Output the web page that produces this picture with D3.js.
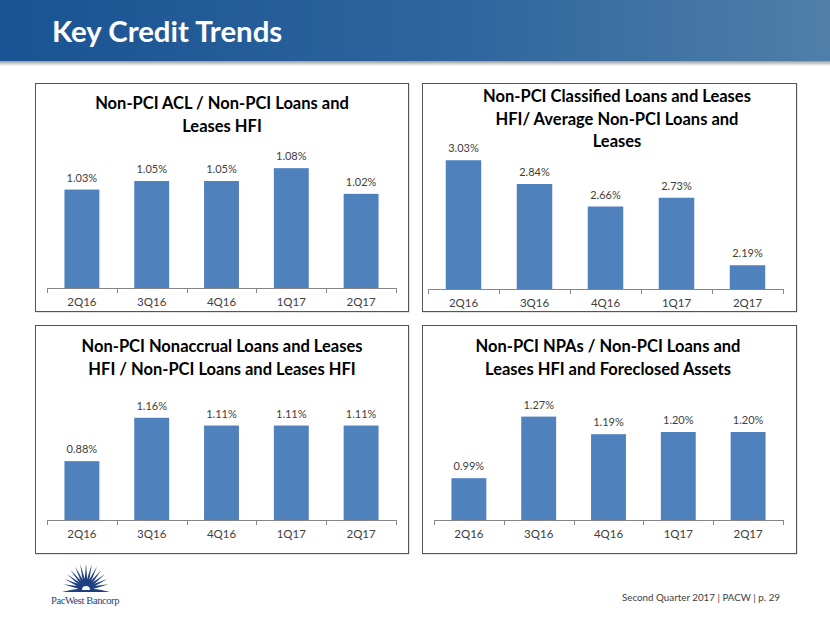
<!DOCTYPE html>
<html>
<head>
<meta charset="utf-8">
<script src="https://cdn.jsdelivr.net/npm/d3@7/dist/d3.min.js"></script>
<style>
  html, body { margin: 0; padding: 0; background: #ffffff; }
  svg { display: block; font-family: Lato, "Open Sans", sans-serif; }
</style>
</head>
<body>
<svg id="chart" width="830" height="623"></svg>
<script>
// ---------- data ----------
const categories = ["2Q16", "3Q16", "4Q16", "1Q17", "2Q17"];
const aclValues = [1.03, 1.05, 1.05, 1.08, 1.02];
const classifiedValues = [3.03, 2.84, 2.66, 2.73, 2.19];
const nonaccrualValues = [0.88, 1.16, 1.11, 1.11, 1.11];
const npaValues = [0.99, 1.27, 1.19, 1.20, 1.20];

const aclTitle = ["Non-PCI ACL / Non-PCI Loans and", "Leases HFI"];
const classifiedTitle = ["Non-PCI Classified Loans and Leases", "HFI/ Average Non-PCI Loans and", "Leases"];
const nonaccrualTitle = ["Non-PCI Nonaccrual Loans and Leases", "HFI / Non-PCI Loans and Leases HFI"];
const npaTitle = ["Non-PCI NPAs / Non-PCI Loans and", "Leases HFI and Foreclosed Assets"];

// value-axis extents (Excel auto axis, hidden)
const aclAxis = [0.8, 1.1];
const classifiedAxis = [2.0, 3.2];
const nonaccrualAxis = [0.5, 1.2];
const npaAxis = [0.8, 1.3];

const pageTitle = "Key Credit Trends";
const footerText = "Second Quarter 2017 | PACW | p. 29";
const logoText = "PacWest Bancorp";

// ---------- layout ----------
const svg = d3.select("#chart");
const defs = svg.append("defs");

const hg = defs.append("linearGradient").attr("id", "hdr").attr("x1", "0").attr("x2", "1").attr("y1", "0").attr("y2", "0");
hg.append("stop").attr("offset", "0").attr("stop-color", "#1a5393");
hg.append("stop").attr("offset", "0.55").attr("stop-color", "#2e659d");
hg.append("stop").attr("offset", "1").attr("stop-color", "#4f7fa9");

const sg = defs.append("linearGradient").attr("id", "shd").attr("x1", "0").attr("x2", "0").attr("y1", "0").attr("y2", "1");
sg.append("stop").attr("offset", "0").attr("stop-color", "#9a9a9a");
sg.append("stop").attr("offset", "1").attr("stop-color", "#ffffff");

svg.append("rect").attr("x", 0).attr("y", 61).attr("width", 830).attr("height", 5).attr("fill", "url(#shd)");
svg.append("rect").attr("x", 0).attr("y", 0).attr("width", 830).attr("height", 61).attr("fill", "url(#hdr)");

svg.append("text")
  .attr("x", 52).attr("y", 42)
  .attr("fill", "#ffffff")
  .attr("font-size", 29.4)
  .attr("font-weight", "bold")
  .text(pageTitle);

const panels = [
  { values: aclValues, title: aclTitle, axis: aclAxis,
    box: [35, 83, 408, 311], x0: 47, x1: 396, base: 288, top: 159.6, titleX: 222, titleY: 109 },
  { values: classifiedValues, title: classifiedTitle, axis: classifiedAxis,
    box: [422, 83, 796, 311], x0: 428, x1: 783, base: 289, top: 139, titleX: 617, titleY: 102 },
  { values: nonaccrualValues, title: nonaccrualTitle, axis: nonaccrualAxis,
    box: [35, 325, 408, 553], x0: 47, x1: 396, base: 520, top: 411.6, titleX: 222, titleY: 352 },
  { values: npaValues, title: npaTitle, axis: npaAxis,
    box: [422, 325, 796, 553], x0: 434, x1: 783, base: 520, top: 410, titleX: 608, titleY: 352 }
];

panels.forEach(p => {
  const g = svg.append("g");
  const [bx0, by0, bx1, by1] = p.box;
  g.append("rect").attr("x", bx0 + 1).attr("y", by0 + 1).attr("width", bx1 - bx0).attr("height", by1 - by0)
    .attr("fill", "none").attr("stroke", "#c8c8c8").attr("stroke-width", 1);
  g.append("rect").attr("x", bx0 + 0.5).attr("y", by0 + 0.5).attr("width", bx1 - bx0).attr("height", by1 - by0)
    .attr("fill", "#ffffff").attr("stroke", "#555555").attr("stroke-width", 1);

  const t = g.append("text").attr("text-anchor", "middle")
    .attr("font-size", 16.5).attr("font-weight", "bold").attr("fill", "#000000");
  p.title.forEach((line, i) => {
    t.append("tspan").attr("x", p.titleX).attr("y", p.titleY + i * 22.7).text(line);
  });

  const x = d3.scaleBand().domain(categories).range([p.x0, p.x1]).paddingInner(0.5).paddingOuter(0.25);
  const y = d3.scaleLinear().domain(p.axis).range([p.base, p.top]);

  g.selectAll("rect.bar").data(categories).join("rect")
    .attr("class", "bar")
    .attr("x", c => x(c))
    .attr("width", x.bandwidth())
    .attr("y", (c, i) => y(p.values[i]))
    .attr("height", (c, i) => p.base - y(p.values[i]))
    .attr("fill", "#4f81bd");

  g.selectAll("text.val").data(categories).join("text")
    .attr("class", "val")
    .attr("x", c => x(c) + x.bandwidth() / 2)
    .attr("y", (c, i) => y(p.values[i]) - 8)
    .attr("text-anchor", "middle")
    .attr("font-size", 11)
    .attr("fill", "#404040")
    .text((c, i) => p.values[i].toFixed(2) + "%");

  const axis = d3.axisBottom(x).tickSize(0).tickPadding(0);
  const ag = g.append("g").attr("transform", `translate(0,${p.base})`).call(axis);
  ag.attr("font-family", null);
  ag.select(".domain").attr("stroke", "#868686").attr("d", `M${p.x0},0.5H${p.x1}`);
  ag.selectAll(".tick text")
    .attr("dy", null).attr("y", 18)
    .attr("font-size", 11.5).attr("fill", "#404040");

  const dividers = categories.map(c => x(c) - x.step() * x.paddingInner() / 2)
    .concat([x(categories[categories.length - 1]) + x.bandwidth() + x.step() * x.paddingInner() / 2]);
  ag.selectAll("line.divtick").data(dividers).join("line")
    .attr("class", "divtick")
    .attr("x1", d => Math.round(d) + 0.5).attr("x2", d => Math.round(d) + 0.5)
    .attr("y1", 0).attr("y2", 5)
    .attr("stroke", "#868686");
});

// ---------- logo ----------
const logo = svg.append("g").attr("transform", "translate(86,589)");
const navy = "#1e3f80";
const rayAngles = d3.range(-78, 79, 13);
rayAngles.forEach(a => {
  const rad = (a - 90) * Math.PI / 180;
  const len = 26 - Math.abs(a) / 78 * 3;
  const w = 0.2;
  const r0 = 7;
  const p1 = [Math.cos(rad - w) * r0, Math.sin(rad - w) * r0];
  const p2 = [Math.cos(rad + w) * r0, Math.sin(rad + w) * r0];
  const tip = [Math.cos(rad) * len, Math.sin(rad) * len];
  logo.append("path").attr("d", `M${p1}L${tip}L${p2}Z`).attr("fill", navy);
});
logo.append("path").attr("d", "M-24,3 Q-12,0 -8,0 A8,8 0 0 1 8,0 Q12,0 24,3 Z").attr("fill", navy);
logo.append("path").attr("d", "M-4,1 A4,4 0 0 1 4,1 Z").attr("fill", "#ffffff");
svg.append("text")
  .attr("x", 85).attr("y", 604)
  .attr("text-anchor", "middle")
  .style("font-family", "'Liberation Serif', 'DejaVu Serif', serif")
  .attr("font-size", 10.5)
  .attr("fill", navy)
  .attr("letter-spacing", -0.4)
  .text(logoText);

// ---------- footer ----------
svg.append("text")
  .attr("x", 780).attr("y", 601)
  .attr("text-anchor", "end")
  .attr("font-size", 9.8)
  .attr("fill", "#404040")
  .text(footerText);
</script>
</body>
</html>
